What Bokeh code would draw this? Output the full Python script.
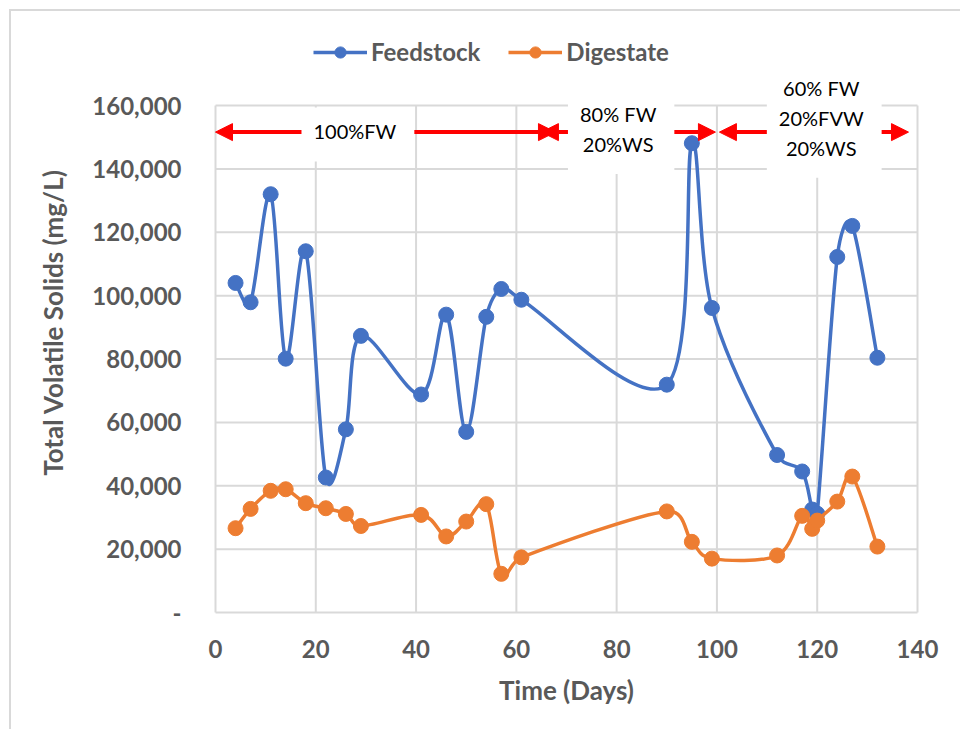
import math

from bokeh.embed import file_html
from bokeh.models import (Arrow, FixedTicker, Label, Legend, LegendItem,
                          NormalHead, NumeralTickFormatter, Range1d)
from bokeh.plotting import figure
from bokeh.resources import INLINE

# ---- data -------------------------------------------------------------
days = [4, 7, 11, 14, 18, 22, 26, 29, 41, 46, 50, 54, 57, 61,
        90, 95, 99, 112, 117, 119, 120, 124, 127, 132]
feedstock = [104000, 97900, 132000, 80100, 114000, 42600, 57800, 87300,
             68800, 94000, 57000, 93300, 102100, 98700, 71900, 148100,
             96100, 49700, 44500, 32500, 31200, 112200, 122000, 80400]
digestate = [26600, 32700, 38400, 38900, 34500, 32900, 31100, 27300,
             30800, 24000, 28700, 34200, 12200, 17400, 31900, 22300,
             17000, 18000, 30500, 26400, 29000, 35000, 42900, 20800]

x_ticks = [0, 20, 40, 60, 80, 100, 120, 140]
y_ticks = [0, 20000, 40000, 60000, 80000, 100000, 120000, 140000, 160000]

# feeding phases: label, start day, end day
phase_labels = ["100%FW", "80% FW\n20%WS", "60% FW\n20%FVW\n20%WS"]
phase_start = [0, 65.0, 100.5]
phase_end = [67.8, 99.7, 138.2]
phase_arrow_y = 151600
phase_label_x = [28.4, 80.9, 121.4]
phase_label_y = [150850, 151600, 155200]

BLUE = "#4472C4"
ORANGE = "#ED7D31"
GREY_TEXT = "#595959"
GRID = "#d9d9d9"
FONT = "Lato"

# ---- geometry (page pixels) -------------------------------------------
OFF = 11                      # chart box starts here (margin + border)
W, H = 951, 720               # canvas size
DL, DR, DT, DB = 215, 917, 105, 612   # where the 0..140 / 0..160k box sits
FRAME_TOP = 30                # frame extends up to hold legend and notes
PAD = 2
X0, X1 = x_ticks[0], x_ticks[-1]
Y0, Y1 = y_ticks[0], y_ticks[-1]
px_per_x = (DR - DL) / (X1 - X0)
px_per_y = (DB - DT) / (Y1 - Y0)

frame_left = DL - PAD - OFF
frame_right = DR + PAD - OFF
frame_bottom = DB + PAD - OFF
frame_top = FRAME_TOP - OFF


def smooth_segments(xs, ys):
    """Cubic Bezier pieces for a smoothed line through (xs, ys)."""
    n = len(xs)
    px = [x * px_per_x for x in xs]
    py = [y * px_per_y for y in ys]

    def handle(a, b, seg_len):
        tx, ty = px[b] - px[a], py[b] - py[a]
        tl = math.hypot(tx, ty)
        if tl == 0:
            return 0.0, 0.0
        L = min(tl / 6.0, 0.5 * seg_len)
        return tx / tl * L, ty / tl * L

    out = dict(x0=[], y0=[], x1=[], y1=[], cx0=[], cy0=[], cx1=[], cy1=[])
    for i in range(n - 1):
        seg_len = math.hypot(px[i + 1] - px[i], py[i + 1] - py[i])
        hx0, hy0 = handle(max(i - 1, 0), i + 1, seg_len)
        hx1, hy1 = handle(i, min(i + 2, n - 1), seg_len)
        out["x0"].append(xs[i])
        out["y0"].append(ys[i])
        out["x1"].append(xs[i + 1])
        out["y1"].append(ys[i + 1])
        out["cx0"].append((px[i] + hx0) / px_per_x)
        out["cy0"].append((py[i] + hy0) / px_per_y)
        out["cx1"].append((px[i + 1] - hx1) / px_per_x)
        out["cy1"].append((py[i + 1] - hy1) / px_per_y)
    return out


p = figure(width=W, height=H, output_backend="svg", toolbar_location=None,
           x_range=Range1d(X0 - PAD / px_per_x, X1 + PAD / px_per_x),
           y_range=Range1d(Y0 - PAD / px_per_y,
                           Y1 + (DT - FRAME_TOP) / px_per_y),
           min_border_left=frame_left, min_border_right=W - frame_right,
           min_border_top=frame_top, min_border_bottom=H - frame_bottom)
p.margin = (OFF - 2, 0, 0, OFF - 2)
p.styles = {"border-top": f"2px solid {GRID}", "border-left": f"2px solid {GRID}"}
p.background_fill_color = "white"
p.border_fill_color = "white"
p.outline_line_color = None
p.xgrid.visible = False
p.ygrid.visible = False

# axes
for ax in (p.xaxis, p.yaxis):
    ax.axis_line_color = None
    ax.major_tick_line_color = None
    ax.minor_tick_line_color = None
    ax.major_label_text_font = FONT
    ax.major_label_text_font_style = "bold"
    ax.major_label_text_font_size = "24px"
    ax.major_label_text_color = GREY_TEXT
    ax.axis_label_text_font = FONT
    ax.axis_label_text_font_style = "bold"
    ax.axis_label_text_font_size = "26px"
    ax.axis_label_text_color = GREY_TEXT

p.xaxis.ticker = FixedTicker(ticks=x_ticks)
p.xaxis.major_label_standoff = 19
p.xaxis.axis_label = "Time (Days)"
p.xaxis.axis_label_standoff = 13

p.yaxis.ticker = FixedTicker(ticks=y_ticks)
p.yaxis.formatter = NumeralTickFormatter(format="0,0")
p.yaxis.major_label_overrides = {0: "-"}
p.yaxis.major_label_standoff = 26
p.yaxis.axis_label = "Total Volatile Solids (mg/L)"
p.yaxis.axis_label_standoff = 20

# grid, limited to the 0..140 x 0..160,000 box
p.segment(x0=x_ticks, y0=[Y0] * len(x_ticks), x1=x_ticks,
          y1=[Y1] * len(x_ticks), line_color=GRID, line_width=2)
p.segment(x0=[X0] * len(y_ticks), y0=y_ticks, x1=[X1] * len(y_ticks),
          y1=y_ticks, line_color=GRID, line_width=2)

# series
items = []
for name, ys, color in (("Feedstock", feedstock, BLUE),
                        ("Digestate", digestate, ORANGE)):
    seg = smooth_segments(days, ys)
    r_line = p.bezier(x0=seg["x0"], y0=seg["y0"], x1=seg["x1"], y1=seg["y1"],
                      cx0=seg["cx0"], cy0=seg["cy0"], cx1=seg["cx1"],
                      cy1=seg["cy1"], line_color=color, line_width=3.5)
    r_pts = p.scatter(days, ys, size=15, marker="circle",
                      fill_color=color, line_color=color)
    items.append(LegendItem(label=name, renderers=[r_line, r_pts]))

# legend across the top, placed relative to the frame's lower-left corner
legend_left, legend_mid = 313, 52
legend = Legend(items=items, orientation="horizontal",
                location=(legend_left - OFF - frame_left,
                          frame_bottom - (legend_mid - OFF) - 14),
                glyph_width=54, glyph_height=28, label_standoff=4, spacing=28,
                label_text_font=FONT, label_text_font_style="bold",
                label_text_font_size="24px", label_text_color=GREY_TEXT,
                label_height=28,
                border_line_color=None, background_fill_alpha=0,
                padding=0, margin=0)
p.add_layout(legend)

# feeding-phase arrows and their labels
for s, e in zip(phase_start, phase_end):
    p.add_layout(Arrow(x_start=s, y_start=phase_arrow_y,
                       x_end=e, y_end=phase_arrow_y,
                       start=NormalHead(size=17, fill_color="red",
                                        line_color="red"),
                       end=NormalHead(size=17, fill_color="red",
                                      line_color="red"),
                       line_color="red", line_width=4))
for txt, lx, ly in zip(phase_labels, phase_label_x, phase_label_y):
    p.add_layout(Label(x=lx, y=ly, text=txt, text_align="center",
                       text_baseline="middle", text_font=FONT,
                       text_font_size="20px", text_color="black",
                       text_line_height=1.25,
                       background_fill_color="white",
                       padding=(12, 18, 12, 18)))

open("out.html", "w").write(file_html(p, INLINE))
